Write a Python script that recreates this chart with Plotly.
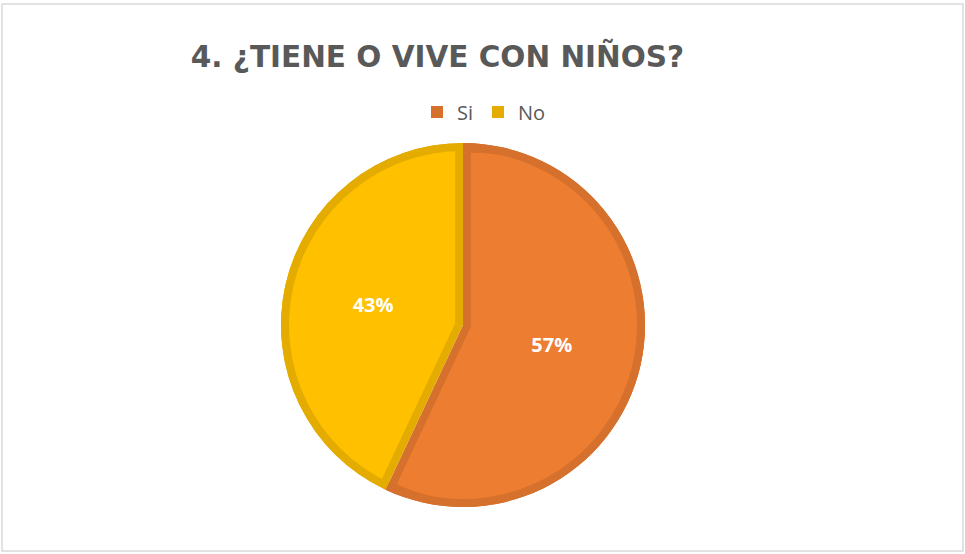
import plotly.graph_objects as go

# ---- data ----
labels = ["Si", "No"]
values = [57, 43]
fill_colors = ["#ED7D31", "#FFC000"]
border_colors = ["#D5712D", "#E4AC00"]
title_text = "4. ¿TIENE O VIVE CON NIÑOS?"

W, H = 965, 554
cx, cy, R = 463, 325, 182
band = 8

dom_x = [(cx - R) / W, (cx + R) / W]
dom_y = [1 - (cy + R) / H, 1 - (cy - R) / H]
pull_frac = band / (R - band)

common = dict(labels=labels, values=values, sort=False, direction="clockwise",
              rotation=0, domain=dict(x=dom_x, y=dom_y), hoverinfo="skip")

fig = go.Figure()
# base (border colour) pie
fig.add_trace(go.Pie(**common, marker=dict(colors=border_colors), textinfo="none",
                     showlegend=True))
# inner fill, pulled slightly so the border shows along the radial edges
fig.add_trace(go.Pie(**common, marker=dict(colors=fill_colors), textinfo="none",
                     pull=[pull_frac] * len(values), showlegend=False))
# outer ring border
fig.add_trace(go.Pie(**common, marker=dict(colors=border_colors), textinfo="none",
                     hole=(R - band) / R, showlegend=False))
# labels
fig.add_trace(go.Pie(**common, marker=dict(colors=["rgba(0,0,0,0)"] * len(values)),
                     textinfo="percent", textposition="inside",
                     insidetextorientation="horizontal",
                     textfont=dict(family="Open Sans", size=20, color="white", weight="bold"),
                     showlegend=False))

fig.update_layout(
    width=W, height=H,
    margin=dict(l=0, r=0, t=0, b=0),
    paper_bgcolor="white", plot_bgcolor="white",
    title=dict(text="<b>" + title_text + "</b>", x=437.5 / W, xanchor="center",
               y=1 - 57 / H, yanchor="middle",
               font=dict(family="DejaVu Sans", size=29.5, color="#595959")),
    legend=dict(orientation="h", x=484 / W, xanchor="center", y=1 - 112 / H,
                yanchor="middle", font=dict(family="Open Sans", size=20, color="#595959"),
                itemwidth=30, traceorder="normal"),
    shapes=[dict(type="rect", xref="paper", yref="paper", x0=2 / W, x1=963 / W,
                 y0=1 - 551 / H, y1=1 - 4 / H, line=dict(color="#D9D9D9", width=1.5))],
)

fig.write_html("out.html")
